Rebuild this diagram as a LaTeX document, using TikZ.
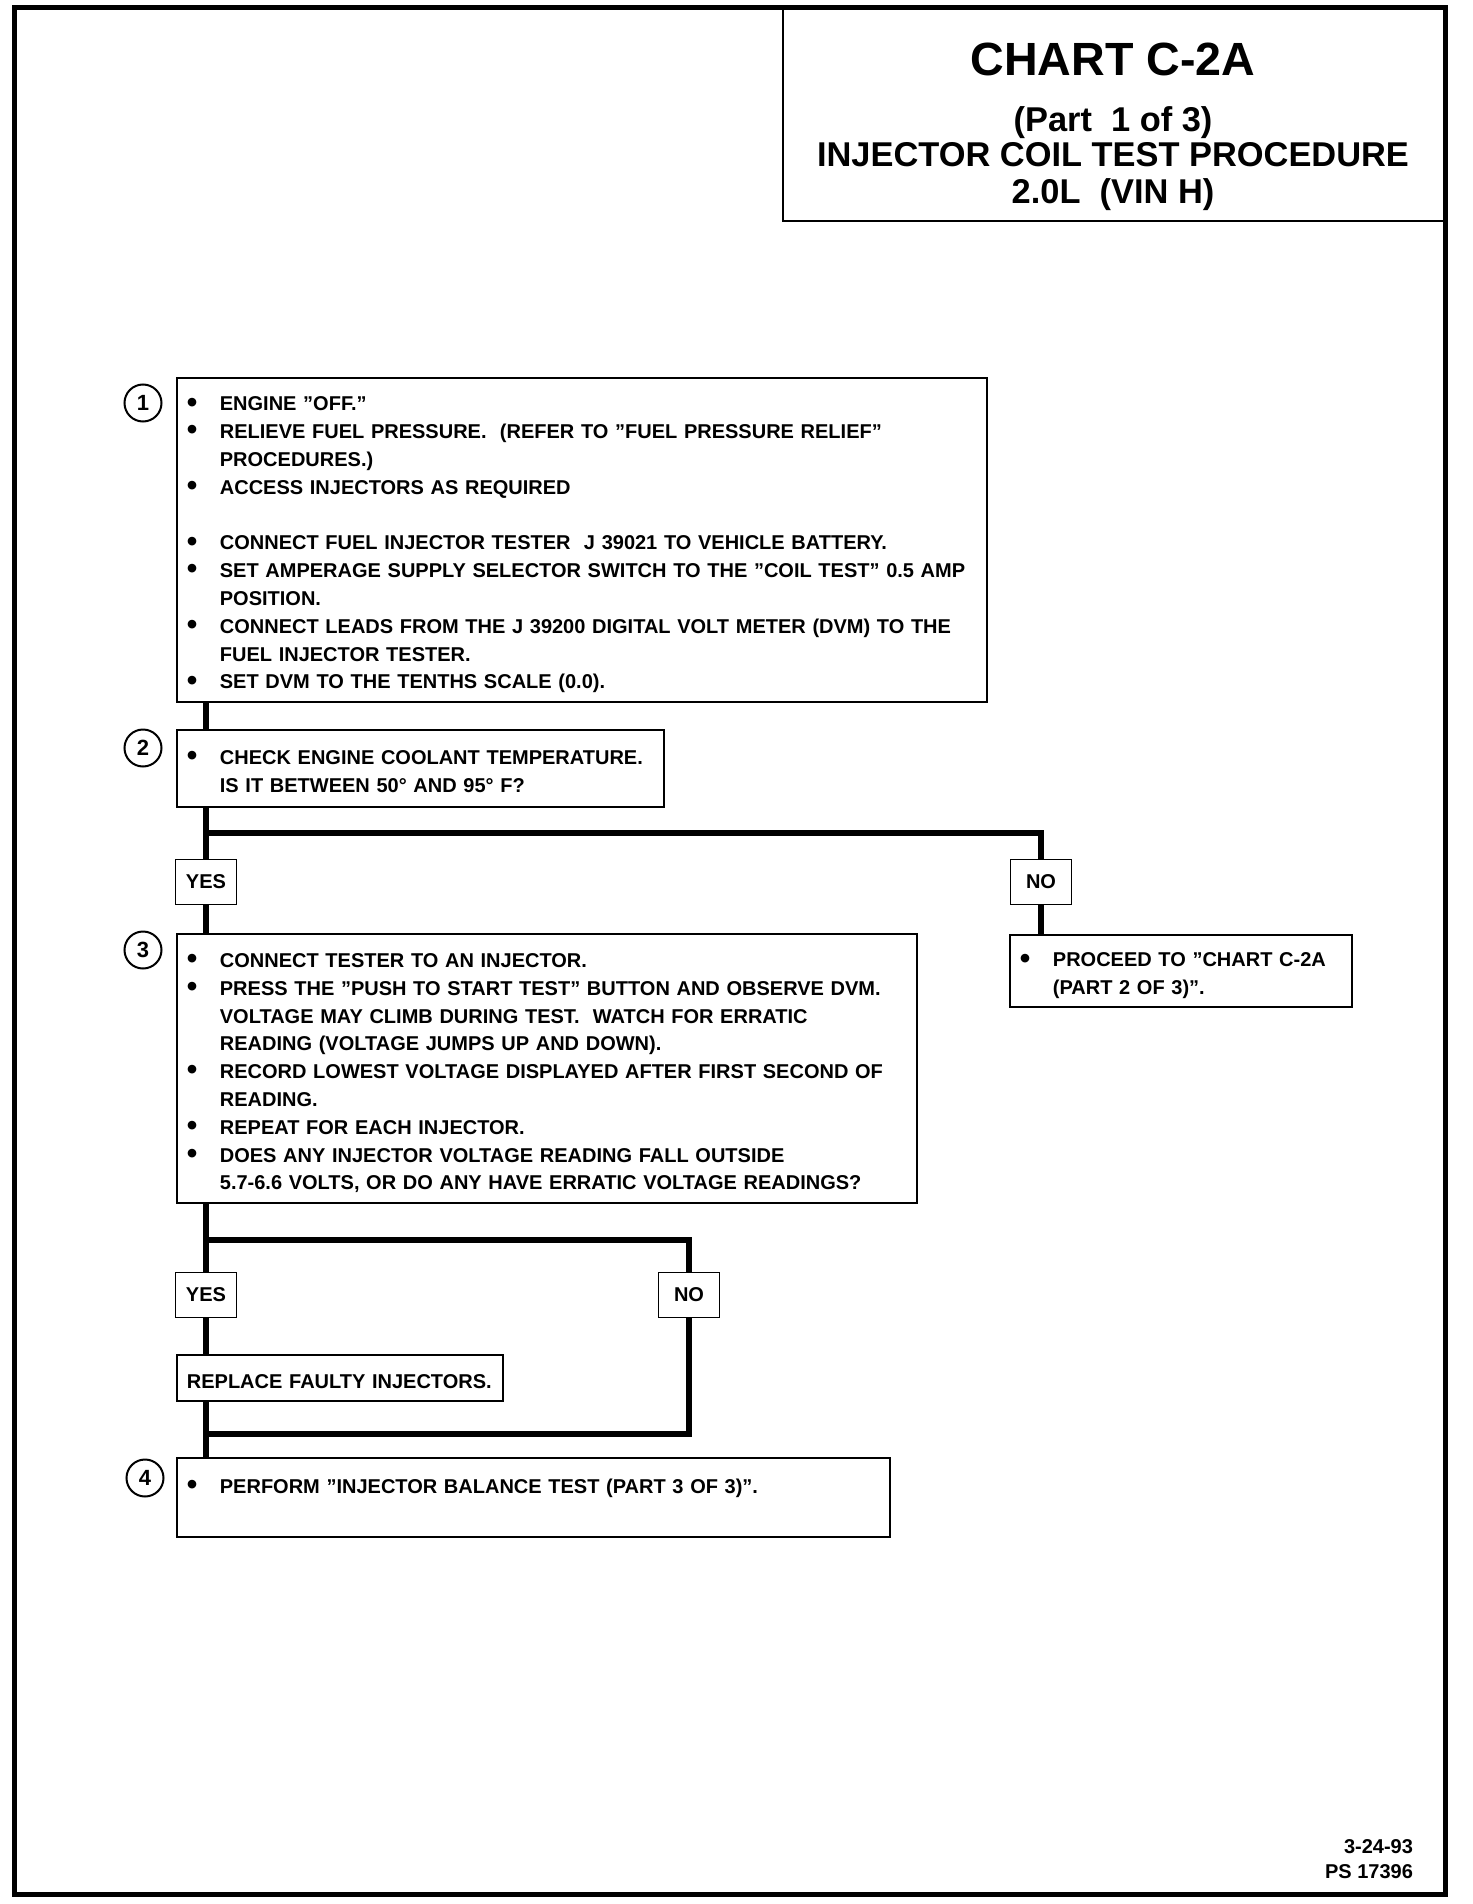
\documentclass[tikz,border=0pt]{standalone}
\usepackage{fontspec}
\setmainfont{Liberation Sans}
\usepackage{tikz}
\tikzset{
  frm/.style={line width=2.5pt},
  hd/.style={line width=1pt},
  bx/.style={draw,line width=0.9pt,anchor=north west,inner xsep=5pt,inner ysep=0pt,align=left,
    font=\bodyfont,execute at begin node=\rule{0pt}{12pt},execute at end node=\rule[-1.8pt]{0pt}{1.8pt}},
  yn/.style={draw,line width=0.9pt,minimum width=30.5pt,minimum height=22.5pt,inner sep=0pt,font=\bodyfont},
  num/.style={draw,circle,line width=1pt,minimum size=18.5pt,inner sep=0pt,font=\bfseries\fontsize{11}{13}\selectfont},
  ln/.style={line width=3pt,line join=miter},
  ttl/.style={anchor=base,font=\bfseries\fontsize{17.2}{18}\selectfont}
}
\newcommand{\bodyfont}{\bfseries\fontsize{10}{13.9}\selectfont}
\newcommand{\bul}{\makebox[16.5pt][l]{\raisebox{-0.6pt}{\scalebox{1.5}{\textbullet}}}}
\newcommand{\ind}{\hspace*{16.5pt}}

\begin{document}
\begin{tikzpicture}[x=0.5pt,y=-0.5pt]
\useasboundingbox (0,0) rectangle (1472,1904);
\draw[frm] (14,8) rectangle (1445,1894);
\draw[hd] (783,8) |- (1445,221);
\node[ttl,font=\bfseries\fontsize{23.3}{28}\selectfont] (chart) at (1113,76) {CHART C-2A};
\node[ttl] (part) at (1113,132) {(Part\ \ 1 of 3)};
\node[ttl] (proc) at (1113,167) {INJECTOR COIL TEST PROCEDURE};
\node[ttl] (eng) at (1113,204) {2.0L\ \ (VIN H)};

\node[num] (n1) at (143,403) {1};
\node[bx,text width=395pt,minimum height=162pt] (box1) at (176,377) {%
\bul ENGINE "OFF."\\
\bul RELIEVE FUEL PRESSURE.\ \ (REFER TO "FUEL PRESSURE RELIEF"\\
\ind PROCEDURES.)\\
\bul ACCESS INJECTORS AS REQUIRED\\
\mbox{}\\
\bul CONNECT FUEL INJECTOR TESTER\ \ J 39021 TO VEHICLE BATTERY.\\
\bul SET AMPERAGE SUPPLY SELECTOR SWITCH TO THE "COIL TEST" 0.5 AMP\\
\ind POSITION.\\
\bul CONNECT LEADS FROM THE J 39200 DIGITAL VOLT METER (DVM) TO THE\\
\ind FUEL INJECTOR TESTER.\\
\bul SET DVM TO THE TENTHS SCALE (0.0).};

\node[num] (n2) at (143,748) {2};
\node[bx,text width=233.5pt,minimum height=38.5pt] (box2) at (176,729) {%
\bul CHECK ENGINE COOLANT TEMPERATURE.\\
\ind IS IT BETWEEN 50° AND 95° F?};

\coordinate (fork1) at (206,833);
\node[yn] (yes1) at (206,882) {YES};
\node[yn] (no1) at (1041,882) {NO};

\node[num] (n3) at (143,950) {3};
\node[bx,text width=360pt,minimum height=134.5pt] (box3) at (176,933) {%
\bul CONNECT TESTER TO AN INJECTOR.\\
\bul PRESS THE "PUSH TO START TEST" BUTTON AND OBSERVE DVM.\\
\ind VOLTAGE MAY CLIMB DURING TEST.\ \ WATCH FOR ERRATIC\\
\ind READING (VOLTAGE JUMPS UP AND DOWN).\\
\bul RECORD LOWEST VOLTAGE DISPLAYED AFTER FIRST SECOND OF\\
\ind READING.\\
\bul REPEAT FOR EACH INJECTOR.\\
\bul DOES ANY INJECTOR VOLTAGE READING FALL OUTSIDE\\
\ind 5.7-6.6 VOLTS, OR DO ANY HAVE ERRATIC VOLTAGE READINGS?};
\node[bx,text width=161pt,minimum height=36pt] (goto) at (1009,934) {%
\bul PROCEED TO "CHART C-2A\\
\ind (PART 2 OF 3)".};

\coordinate (fork2) at (206,1240);
\coordinate (join2) at (206,1434);
\node[yn] (yes2) at (206,1295) {YES};
\node[yn] (no2) at (689,1295) {NO};
\node[bx,text width=153pt,minimum height=23pt] (repl) at (176,1354) {\mbox{REPLACE FAULTY INJECTORS.}};

\node[num] (n4) at (145,1478) {4};
\node[bx,text width=346.5pt,minimum height=39.5pt] (box4) at (176,1457) {%
\bul PERFORM "INJECTOR BALANCE TEST (PART 3 OF 3)".\\
\mbox{}};

\node[anchor=base east,font=\bodyfont] (date) at (1420,1853) {3-24-93};
\node[anchor=base east,font=\bodyfont] (psno) at (1420,1878) {PS 17396};

% connectors
\draw[ln] (box1.south -| yes1) -- (box2.north -| yes1);
\draw[ln] (box2.south -| yes1) -- (yes1.north);
\draw[ln] (fork1) -| (no1.north);
\draw[ln] (yes1.south) -- (box3.north -| yes1);
\draw[ln] (no1.south) -- (goto.north -| no1);
\draw[ln] (box3.south -| yes2) -- (yes2.north);
\draw[ln] (fork2) -| (no2.north);
\draw[ln] (yes2.south) -- (repl.north -| yes2);
\draw[ln] (repl.south -| yes2) -- (box4.north -| yes2);
\draw[ln] (no2.south) |- (join2);
\end{tikzpicture}
\end{document}
